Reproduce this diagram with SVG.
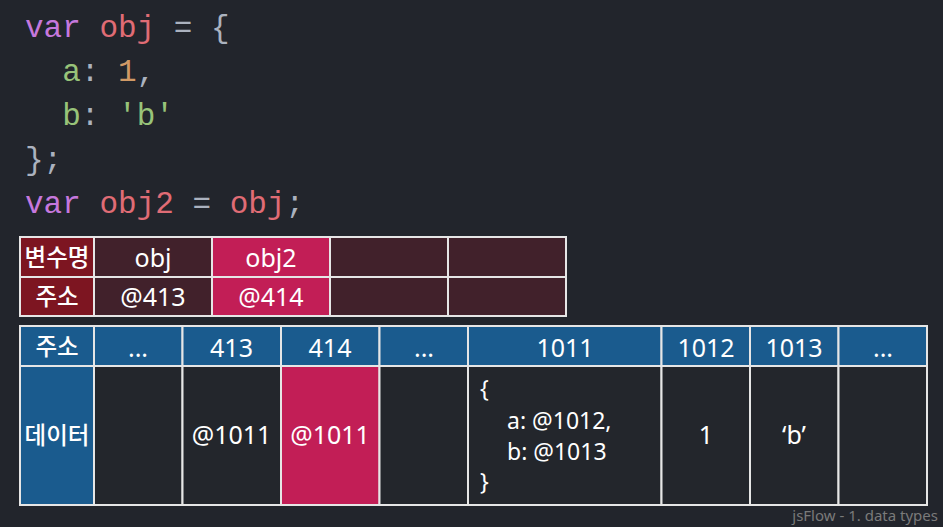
<svg xmlns="http://www.w3.org/2000/svg" width="943" height="527" viewBox="0 0 943 527">
<style>
.code{font-family:"Liberation Mono","DejaVu Sans Mono",monospace;font-size:31px;white-space:pre}
.kw{fill:#c678dd}.vr{fill:#e06c75}.op{fill:#abb2bf}.pr{fill:#98c379}.nm{fill:#d19a66}
.cell{stroke:#e6e6e6;stroke-width:2}
.t{font-family:"Noto Sans","Noto Sans CJK KR",sans-serif;font-size:25px;fill:#ffffff;text-anchor:middle}
.k{font-family:"Noto Sans CJK KR","Noto Sans",sans-serif;font-size:23.5px;font-weight:500;fill:#ffffff;text-anchor:middle}
.l{font-family:"Noto Sans","Noto Sans CJK KR",sans-serif;font-size:23px;fill:#ffffff}
.lab{fill:#7d1521}.var{fill:#41212b}.hi{fill:#c21e56}.hd{fill:#1a5b8e}.dt{fill:#23262c}
</style>
<rect width="943" height="527" fill="#22252c"/>
<g id="code">
<text class="code" x="25" y="37"><tspan class="kw">var</tspan><tspan class="vr"> obj</tspan><tspan class="op"> = {</tspan></text>
<text class="code" x="25" y="81"><tspan class="pr">  a</tspan><tspan class="op">: </tspan><tspan class="nm">1</tspan><tspan class="op">,</tspan></text>
<text class="code" x="25" y="125"><tspan class="pr">  b</tspan><tspan class="op">: </tspan><tspan class="pr">'b'</tspan></text>
<text class="code" x="25" y="169"><tspan class="op">};</tspan></text>
<text class="code" x="25" y="213"><tspan class="kw">var</tspan><tspan class="vr"> obj2</tspan><tspan class="op"> = </tspan><tspan class="vr">obj</tspan><tspan class="op">;</tspan></text>
</g>
<g id="vartable">
<rect class="cell lab" x="20" y="237" width="74" height="40"/>
<rect class="cell var" x="94" y="237" width="118" height="40"/>
<rect class="cell hi" x="212" y="237" width="118" height="40"/>
<rect class="cell var" x="330" y="237" width="118" height="40"/>
<rect class="cell var" x="448" y="237" width="118" height="40"/>
<rect class="cell lab" x="20" y="277" width="74" height="39"/>
<rect class="cell var" x="94" y="277" width="118" height="39"/>
<rect class="cell hi" x="212" y="277" width="118" height="39"/>
<rect class="cell var" x="330" y="277" width="118" height="39"/>
<rect class="cell var" x="448" y="277" width="118" height="39"/>
<text class="k" x="57" y="266">변수명</text>
<text class="k" x="57" y="305">주소</text>
<text class="t" x="153" y="267">obj</text>
<text class="t" x="271" y="267">obj2</text>
<text class="t" x="153" y="306">@413</text>
<text class="t" x="271" y="306">@414</text>
</g>
<g id="memtable">
<rect class="cell hd" x="20" y="326" width="74" height="40"/>
<rect class="cell hd" x="94" y="326" width="88.5" height="40"/>
<rect class="cell hd" x="182.5" y="326" width="98.5" height="40"/>
<rect class="cell hd" x="281" y="326" width="98.5" height="40"/>
<rect class="cell hd" x="379.5" y="326" width="88.5" height="40"/>
<rect class="cell hd" x="468" y="326" width="193.5" height="40"/>
<rect class="cell hd" x="661.5" y="326" width="88.5" height="40"/>
<rect class="cell hd" x="750" y="326" width="88.5" height="40"/>
<rect class="cell hd" x="838.5" y="326" width="88.5" height="40"/>
<rect class="cell hd" x="20" y="366" width="74" height="139"/>
<rect class="cell dt" x="94" y="366" width="88.5" height="139"/>
<rect class="cell dt" x="182.5" y="366" width="98.5" height="139"/>
<rect class="cell hi" x="281" y="366" width="98.5" height="139"/>
<rect class="cell dt" x="379.5" y="366" width="88.5" height="139"/>
<rect class="cell dt" x="468" y="366" width="193.5" height="139"/>
<rect class="cell dt" x="661.5" y="366" width="88.5" height="139"/>
<rect class="cell dt" x="750" y="366" width="88.5" height="139"/>
<rect class="cell dt" x="838.5" y="366" width="88.5" height="139"/>
<text class="k" x="57" y="355">주소</text>
<text class="t" x="138" y="357">...</text>
<text class="t" x="231.5" y="357">413</text>
<text class="t" x="330" y="357">414</text>
<text class="t" x="424" y="357">...</text>
<text class="t" x="565" y="357">1011</text>
<text class="t" x="706" y="357">1012</text>
<text class="t" x="794" y="357">1013</text>
<text class="t" x="883" y="357">...</text>
<text class="k" x="57" y="444">데이터</text>
<text class="t" x="231.5" y="444">@1011</text>
<text class="t" x="330" y="444">@1011</text>
<text class="l" x="480" y="397">{</text>
<text class="l" x="507" y="429">a: @1012,</text>
<text class="l" x="507" y="460">b: @1013</text>
<text class="l" x="480" y="490">}</text>
<text class="t" x="706" y="444">1</text>
<text class="t" x="794" y="444">‘b’</text>
</g>
<text x="938" y="521" font-family="Noto Sans, sans-serif" font-size="15" fill="#7a7a7a" text-anchor="end">jsFlow - 1. data types</text>
</svg>
